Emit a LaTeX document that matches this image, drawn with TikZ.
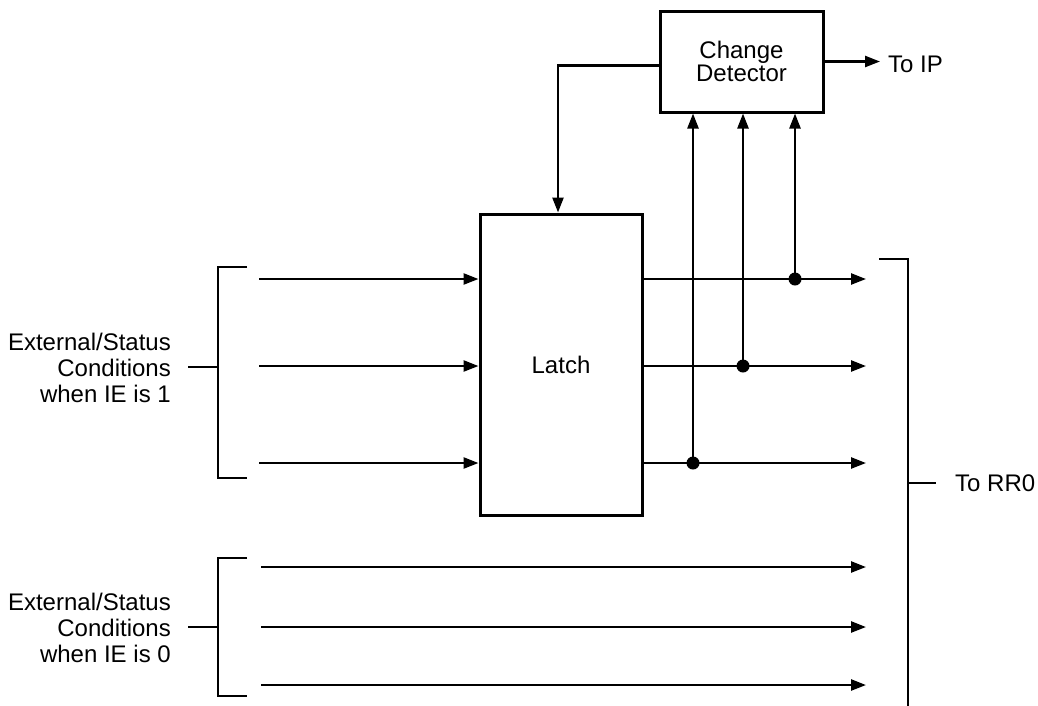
\documentclass[tikz,border=0pt]{standalone}
\usepackage{fontspec}
\setmainfont{Liberation Sans}
\usetikzlibrary{arrows.meta}
\begin{document}
\begin{tikzpicture}[x=1pt,y=-1pt,
  box/.style={draw,line width=3pt,inner sep=0pt,align=center,font=\fontsize{24}{23}\selectfont},
  lbl/.style={inner sep=0pt,font=\fontsize{24}{26}\selectfont},
  ln/.style={line width=2.5pt},
  arr/.style={line width=2.4pt,-{Triangle[length=15pt,width=11pt]}},
  dot/.style={fill=black}]
\useasboundingbox (0,0) rectangle (1038,705);
\node[box,minimum width=163pt,minimum height=101pt] (cd) at (741.5,61.5) {Change\\Detector};
\node[box,minimum width=162pt,minimum height=301pt] (latch) at (561,364.5) {Latch};
% To IP
\node[lbl,anchor=west] (toip) at (888,64) {To IP};
\coordinate (ipend) at (880,61.5);
\draw[arr] (cd.east) -- (ipend);
% feedback
\coordinate (fbx) at (558,0);
\draw[arr] ([yshift=-4pt]cd.west) -| (fbx |- latch.north);
% inputs
\coordinate (i1) at (259,279);
\coordinate (i2) at (259,366);
\coordinate (i3) at (259,463);
\foreach \i in {i1,i2,i3} \draw[arr] (\i) -- (\i -| latch.west);
% outputs
\coordinate (o1) at (866,279);
\coordinate (o2) at (866,366);
\coordinate (o3) at (866,463);
\foreach \o in {o1,o2,o3} \draw[arr] (\o -| latch.east) -- (\o);
\coordinate (d1) at (795,279);
\coordinate (d2) at (743,366);
\coordinate (d3) at (693,463);
\foreach \d in {d1,d2,d3} {\draw[arr] (\d) -- (\d |- cd.south); \fill[dot] (\d) circle (6.5pt);}
% lower inputs
\coordinate (l1) at (261,567);
\coordinate (l2) at (261,627);
\coordinate (l3) at (261,685);
\foreach \l in {l1,l2,l3} \draw[arr] (\l) -- (\l -| o1);
% left brackets
\draw[ln] (247,267) -- (218,267) -- (218,478) -- (247,478);
\coordinate (b1) at (218,367);
\node[lbl,anchor=east,align=right] (ext1) at (171,368) {External/Status\\Conditions\\when IE is 1};
\draw[ln] (b1) -- (188,367);
\draw[ln] (247,558) -- (218,558) -- (218,696) -- (247,696);
\coordinate (b2) at (218,627);
\node[lbl,anchor=east,align=right] (ext0) at (171,628) {External/Status\\Conditions\\when IE is 0};
\draw[ln] (b2) -- (188,627);
% right bracket
\draw[ln] (879,259) -- (908,259) -- (908,706);
\coordinate (rb) at (908,483);
\node[lbl,anchor=west] (torr) at (955,483) {To RR0};
\draw[ln] (rb) -- (936,483);
\end{tikzpicture}
\end{document}
